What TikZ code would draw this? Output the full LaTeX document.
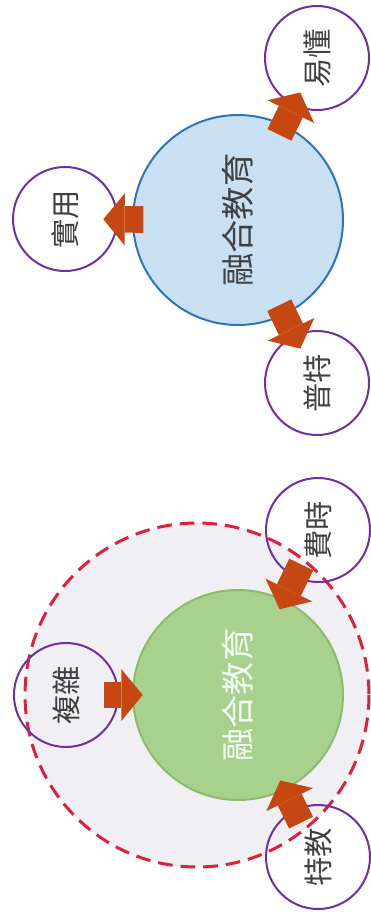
\documentclass[tikz,border=0pt]{standalone}
\usepackage{fontspec}
\newfontfamily\cjk{Noto Sans CJK TC}
\usetikzlibrary{arrows.meta}

\definecolor{corefill}{RGB}{201,224,243}
\definecolor{coreline}{RGB}{46,117,182}
\definecolor{greenfill}{RGB}{169,209,142}
\definecolor{greenline}{RGB}{141,186,108}
\definecolor{ringfill}{RGB}{240,240,244}
\definecolor{ringline}{RGB}{222,32,58}
\definecolor{sideline}{RGB}{112,48,160}
\definecolor{blockred}{RGB}{197,72,18}

\tikzset{
  sidecircle/.style={circle, draw=sideline, line width=1.5pt, minimum size=78pt, inner sep=0pt,
    rotate=90, font=\cjk\fontsize{22}{26}\selectfont, text=black!75},
  bigcircle/.style={circle, line width=1.5pt, minimum size=157.5pt, inner sep=0pt,
    rotate=90, font=\cjk\fontsize{25}{30}\selectfont},
  blockout/.style={draw=blockred, line width=20pt,
    -{Triangle[width=39pt,length=16pt,line width=0pt]}, shorten <=-8.5pt, shorten >=-11pt},
  blockin/.style={draw=blockred, line width=20pt,
    -{Triangle[width=39pt,length=16pt,line width=0pt]}, shorten <=-11pt, shorten >=-8pt}
}

\begin{document}
\begin{tikzpicture}[x=0.75pt,y=0.75pt,yscale=-1,xscale=1]
\useasboundingbox (0,0) rectangle (371,915);

%Shape: Circle (upper core)
\node [bigcircle, draw=coreline, fill=corefill, text=black!75] (core) at (238,220) {融合教育};
% Text Node
\node [sidecircle] (easy) at (317,58) {易懂};
\node [sidecircle] (useful) at (65,219) {實用};
\node [sidecircle] (general) at (317,383) {普特};

%Block Arrows
\draw [blockout] (core) -- (easy);
\draw [blockout] (core) -- (useful);
\draw [blockout] (core) -- (general);

%Shape: Circle (dashed ring)
\draw [draw=ringline, fill=ringfill, line width=2.25pt, dash pattern=on 11pt off 6pt] (197,695) circle [radius=129pt];
%Shape: Circle (lower core)
\node [bigcircle, draw=greenline, fill=greenfill, text=white!95!green] (core2) at (238,695) {融合教育};
% Text Node
\node [sidecircle] (slow) at (318,530) {費時};
\node [sidecircle] (complex) at (66,695) {複雜};
\node [sidecircle] (special) at (318,857) {特教};

%Block Arrows
\draw [blockin] (slow) -- (core2);
\draw [blockin] (complex) -- (core2);
\draw [blockin] (special) -- (core2);

\end{tikzpicture}
\end{document}
